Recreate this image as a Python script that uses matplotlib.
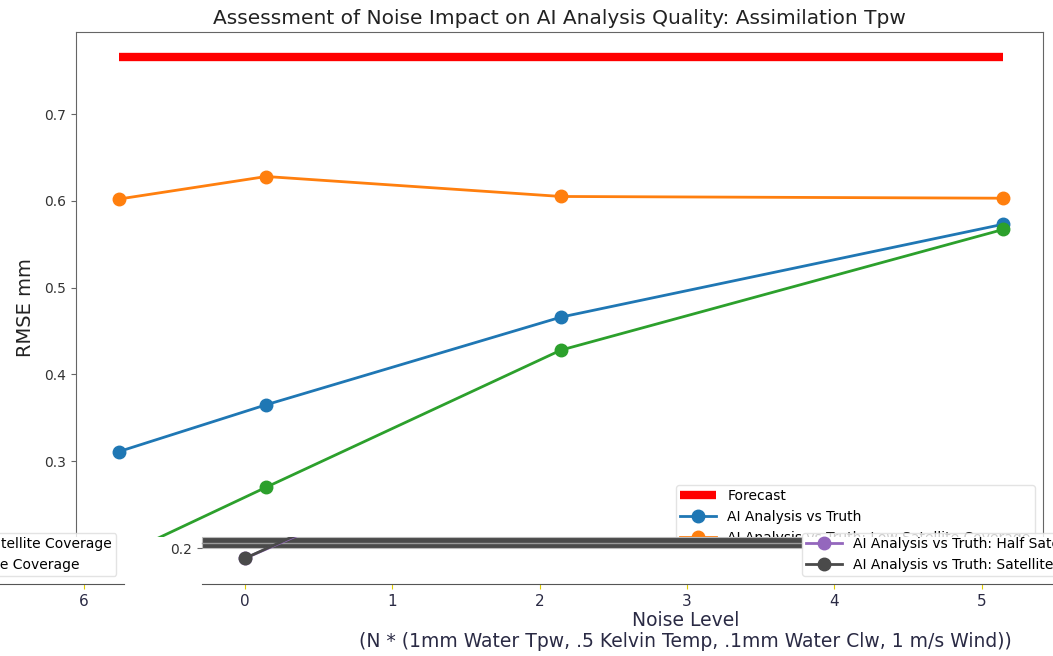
import numpy as np
import matplotlib
matplotlib.use("Agg")
import matplotlib.pyplot as plt
from matplotlib.patches import Rectangle
from matplotlib.lines import Line2D

# noise levels and rmse values
noise = [0, 1, 3, 6]
forecast = [0.766, 0.766, 0.766, 0.766]
ai_truth = [0.311, 0.365, 0.466, 0.573]
low_cov = [0.602, 0.628, 0.605, 0.603]
full_cov = [0.190, 0.270, 0.428, 0.567]
half_cov = [0.188, 0.262, 0.420, 0.560]
sat_cov = [0.188, 0.265, 0.430, 0.565]

names = ['Forecast',
         'AI Analysis vs Truth',
         'AI Analysis vs Truth: Low Satellite Coverage',
         'AI Analysis vs Truth: Full Satellite Coverage',
         'AI Analysis vs Truth: Half Satellite Coverage',
         'AI Analysis vs Truth: Satellite Coverage']
xlabel = ("Noise Level\n(N * (1mm Water Tpw, .5 Kelvin Temp, "
          ".1mm Water Clw, 1 m/s Wind))")

W, H = 1053, 656
spine_c = '#666666'
text_c = '#333333'

def fx(px):
    return px / W

def fy(py):
    return (H - py) / H

fig = plt.figure(figsize=(W / 100, H / 100), dpi=100)

# main axes (upper part of the picture)
ax = fig.add_axes([fx(76), fy(584), fx(967), 552 / H])
ax.set_zorder(0)
ax.plot(noise, forecast, color='red', lw=6, solid_capstyle='butt', label=names[0])
ax.plot(noise, ai_truth, color='#1f77b4', lw=2, marker='o', ms=9, label=names[1])
ax.plot(noise, low_cov, color='#ff7f0e', lw=2, marker='o', ms=9, label=names[2])
ax.plot(noise, full_cov, color='#2ca02c', lw=2, marker='o', ms=9, label=names[3])
ax.set_xlim(-0.29, 6.27)
ax.set_ylim(0.1585, 0.7945)
ax.set_yticks([0.2, 0.3, 0.4, 0.5, 0.6, 0.7])
ax.set_title("Assessment of Noise Impact on AI Analysis Quality: Assimilation Tpw",
             fontsize=14.5, color='#222222')
ax.set_ylabel("RMSE mm", fontsize=14, color='#222222', labelpad=7)
ax.tick_params(labelsize=10, colors=spine_c, labelcolor=text_c)
for s in ax.spines.values():
    s.set_color(spine_c)
ax.legend(loc='upper left', bbox_to_anchor=(fx(676), fy(485)),
          bbox_transform=fig.transFigure, borderaxespad=0, fontsize=10,
          handlelength=2.6, borderpad=0.3, edgecolor='#dddddd')

# white strip over the bottom, the shifted copy sits on it
fig.add_artist(Rectangle((0, 0), 1, fy(537), transform=fig.transFigure,
                         facecolor='white', edgecolor='none', zorder=1))
fig.add_artist(Rectangle((fx(202), fy(548)), fx(600), 11 / H,
                         transform=fig.transFigure, facecolor='#4a4a4a',
                         edgecolor='#bbbbbb', lw=0.8, zorder=1.5))
fig.add_artist(Line2D([fx(202), fx(802)], [fy(543), fy(543)],
                      transform=fig.transFigure, color='#9a9a9a', lw=1, zorder=1.6))

def strip_axes(left_px, show_ylabels):
    a = fig.add_axes([fx(left_px), fy(584), fx(967), 47 / H])
    a.set_zorder(2)
    a.patch.set_visible(False)
    a.plot(noise, half_cov, color='#9467bd', lw=2, marker='o', ms=9, label=names[4])
    a.plot(noise, sat_cov, color='#4a4a4a', lw=2, marker='o', ms=9, label=names[5])
    a.set_xlim(-0.29, 6.27)
    a.set_ylim(0.1585, 0.2127)
    a.set_yticks([0.2])
    a.set_xticks([0, 1, 2, 3, 4, 5, 6])
    for k in ['top', 'left', 'right']:
        a.spines[k].set_visible(False)
    a.spines['bottom'].set_color('#555555')
    a.tick_params(axis='x', labelsize=11, colors='#e0cc00', labelcolor='#2a2a44')
    a.tick_params(axis='y', labelsize=10, colors=spine_c, labelcolor=text_c,
                  labelleft=show_ylabels)
    a.set_xlabel(xlabel, fontsize=13.5, color='#2a2a44', labelpad=2, linespacing=1.1)
    a.legend(loc='lower left', bbox_to_anchor=(fx(left_px + 600), fy(576)),
             bbox_transform=fig.transFigure, borderaxespad=0, fontsize=10,
             handlelength=2.6, borderpad=0.3, edgecolor='#dddddd')
    return a

ax2 = strip_axes(202, True)
ax3 = strip_axes(202 - 1045, False)

fig.savefig("out.png", dpi=100)
